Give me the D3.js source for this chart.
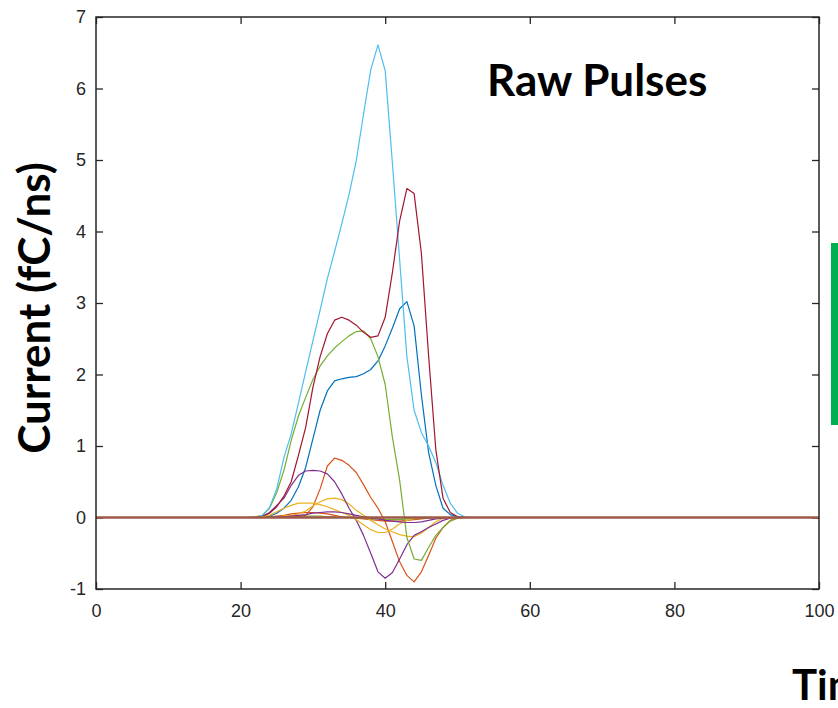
<!DOCTYPE html>
<html><head><meta charset="utf-8">
<script src="https://cdn.jsdelivr.net/npm/d3@7"></script>
<style>body{margin:0;background:#fff;} svg{display:block;}</style>
</head><body>
<script>
// time samples (ns)
const time = [0, 21,22,23,24,25,26,27,28,29,30,31,32,33,34,35,36,37,38,39,40,41,42,43,44,45,46,47,48,49,50,51,52, 100];

// current (fC/ns) per pulse
const orangeSmall = [0, 0,0,0,0.01,0.02,0.03,0.05,0.06,0.07,0.07,0.06,0.05,0.03,0.01,0,-0.01,-0.02,-0.03,-0.04,-0.05,-0.05,-0.05,-0.04,-0.03,-0.02,-0.01,0,0,0,0,0,0, 0];
const greenSmall  = [0, 0,0,0,0,0.01,0.01,0.02,0.02,0.02,0.02,0.02,0.01,0.01,0,0,-0.01,-0.01,-0.02,-0.02,-0.03,-0.03,-0.03,-0.02,-0.02,-0.01,-0.01,0,0,0,0,0,0, 0];
const pulseBlue   = [0, 0,0,0.01,0.02,0.06,0.13,0.24,0.43,0.7,1.1,1.5,1.77,1.91,1.94,1.96,1.97,2.01,2.07,2.19,2.4,2.65,2.92,3.02,2.68,1.72,0.91,0.45,0.13,0.04,0.01,0,0, 0];
const pulseOrange = [0, 0,0,0,0,0,0.005,0.01,0.01,0.03,0.15,0.4,0.72,0.83,0.8,0.73,0.63,0.46,0.28,0.13,-0.06,-0.34,-0.62,-0.81,-0.9,-0.76,-0.53,-0.29,-0.14,-0.04,-0.01,0,0, 0];
const pulseYellow1= [0, 0,0,0,0,0.01,0.02,0.03,0.05,0.09,0.16,0.22,0.26,0.27,0.25,0.19,0.1,0.03,-0.04,-0.1,-0.16,-0.2,-0.24,-0.26,-0.27,-0.22,-0.14,-0.06,-0.01,0,0,0,0, 0];
const pulsePurple = [0, 0,0,0.02,0.07,0.17,0.27,0.45,0.59,0.65,0.66,0.65,0.61,0.5,0.33,0.13,-0.04,-0.25,-0.5,-0.76,-0.85,-0.77,-0.58,-0.38,-0.25,-0.2,-0.14,-0.09,-0.04,-0.01,0,0,0, 0];
const pulseGreen  = [0, 0,0.01,0.03,0.13,0.35,0.66,1.08,1.42,1.68,1.93,2.12,2.26,2.37,2.46,2.54,2.6,2.61,2.5,2.25,1.86,1.12,0.52,-0.28,-0.58,-0.6,-0.42,-0.25,-0.14,-0.05,-0.01,0,0, 0];
const pulseCyan   = [0, 0,0,0.03,0.14,0.4,0.84,1.17,1.6,2.04,2.47,2.9,3.34,3.72,4.11,4.52,4.99,5.64,6.26,6.61,6.25,4.95,3.6,2.25,1.5,1.19,1.0,0.77,0.45,0.2,0.06,0.01,0, 0];
const pulseRed    = [0, 0,0,0.01,0.06,0.15,0.3,0.5,0.87,1.26,1.82,2.25,2.57,2.76,2.8,2.76,2.69,2.59,2.52,2.54,2.8,3.43,4.15,4.6,4.53,3.7,2.27,0.95,0.27,0.07,0.01,0,0, 0];
const pulseYellow2= [0, 0,0,0.01,0.03,0.08,0.13,0.17,0.2,0.2,0.2,0.18,0.15,0.11,0.07,0.03,-0.03,-0.1,-0.17,-0.21,-0.21,-0.16,-0.09,-0.04,-0.01,0,0,0,0,0,0,0,0, 0];
const purpleSmall = [0, 0,0,0,0,0.01,0.01,0.02,0.03,0.04,0.06,0.07,0.08,0.08,0.07,0.05,0.03,0.01,-0.01,-0.02,-0.04,-0.05,-0.06,-0.07,-0.07,-0.06,-0.04,-0.02,-0.01,0,0,0,0, 0];
const baseline    = [0, 0,0,0,0,0,0,0,0,0,0,0,0,0,0,0,0,0,0,0,0,0,0,0,0,0,0,0,0,0,0,0,0, 0];

const seriesNames  = ["orangeSmall","greenSmall","blue","orange","yellow1","purple","green","cyan","red","yellow2","purpleSmall","baseline"];
const seriesValues = [orangeSmall, greenSmall, pulseBlue, pulseOrange, pulseYellow1, pulsePurple, pulseGreen, pulseCyan, pulseRed, pulseYellow2, purpleSmall, baseline];
const seriesColors = ["#D95319","#77AC30","#0072BD","#D95319","#EDB120","#7E2F8E","#77AC30","#4DBEEE","#A2142F","#EDB120","#7E2F8E","#9E5848"];

const xTicks = [0,20,40,60,80,100];
const yTicks = [-1,0,1,2,3,4,5,6,7];

const W = 838, H = 708;
const L = 96, R = 819, T = 17, B = 589;

const svg = d3.select("body").append("svg").attr("width", W).attr("height", H);

const x = d3.scaleLinear().domain([0,100]).range([L,R]);
const y = d3.scaleLinear().domain([-1,7]).range([B,T]);

const tickFont = "'Liberation Sans', Arial, sans-serif";
const axCol = "#262626";
const fmt = d => String(d);

function styleAxis(g, showText){
  g.select(".domain").remove();
  g.selectAll(".tick line").attr("stroke", axCol).attr("stroke-width", 1.3);
  g.selectAll(".tick text").attr("fill", axCol).style("font-family", tickFont).style("font-size", "18px");
  if(!showText) g.selectAll(".tick text").remove();
}

svg.append("g").attr("transform", `translate(0,${B})`)
  .call(d3.axisBottom(x).tickValues(xTicks).tickSizeInner(-7).tickSizeOuter(0).tickPadding(15).tickFormat(fmt))
  .call(g => styleAxis(g, true));
svg.append("g").attr("transform", `translate(0,${T})`)
  .call(d3.axisTop(x).tickValues(xTicks).tickSizeInner(-7).tickSizeOuter(0))
  .call(g => styleAxis(g, false));
svg.append("g").attr("transform", `translate(${L},0)`)
  .call(d3.axisLeft(y).tickValues(yTicks).tickSizeInner(-7).tickSizeOuter(0).tickPadding(10).tickFormat(fmt))
  .call(g => styleAxis(g, true));
svg.append("g").attr("transform", `translate(${R},0)`)
  .call(d3.axisRight(y).tickValues(yTicks).tickSizeInner(-7).tickSizeOuter(0))
  .call(g => styleAxis(g, false));

// lines
const line = d3.line().x((d,i) => x(time[i])).y(d => y(d));
const plot = svg.append("g");
seriesValues.forEach((vals, k) => {
  plot.append("path")
    .datum(vals)
    .attr("d", line)
    .attr("fill", "none")
    .attr("stroke", seriesColors[k])
    .attr("stroke-width", seriesNames[k] === "baseline" ? 2.5 : 1.2)
    .attr("stroke-linejoin", "round");
});

// box
svg.append("rect").attr("x", L).attr("y", T).attr("width", R-L).attr("height", B-T)
  .attr("fill", "none").attr("stroke", axCol).attr("stroke-width", 1.5);

// texts
const boldFont = "Lato, 'Open Sans', sans-serif";
svg.append("text").attr("x", 487).attr("y", 96).text("Raw Pulses")
  .style("font-family", boldFont).style("font-weight", 700).style("font-size", "44px").attr("fill", "#000");
svg.append("text").attr("transform", "translate(50,308) rotate(-90)").attr("text-anchor", "middle").text("Current (fC/ns)")
  .style("font-family", boldFont).style("font-weight", 700).style("font-size", "44px").attr("fill", "#000");
svg.append("text").attr("x", 792).attr("y", 700).text("Time (ns)")
  .style("font-family", boldFont).style("font-weight", 700).style("font-size", "42px").attr("fill", "#000");

// green marker bar at right edge
svg.append("rect").attr("x", 831).attr("y", 243).attr("width", 10).attr("height", 182).attr("fill", "#00B050");
</script>
</body></html>
